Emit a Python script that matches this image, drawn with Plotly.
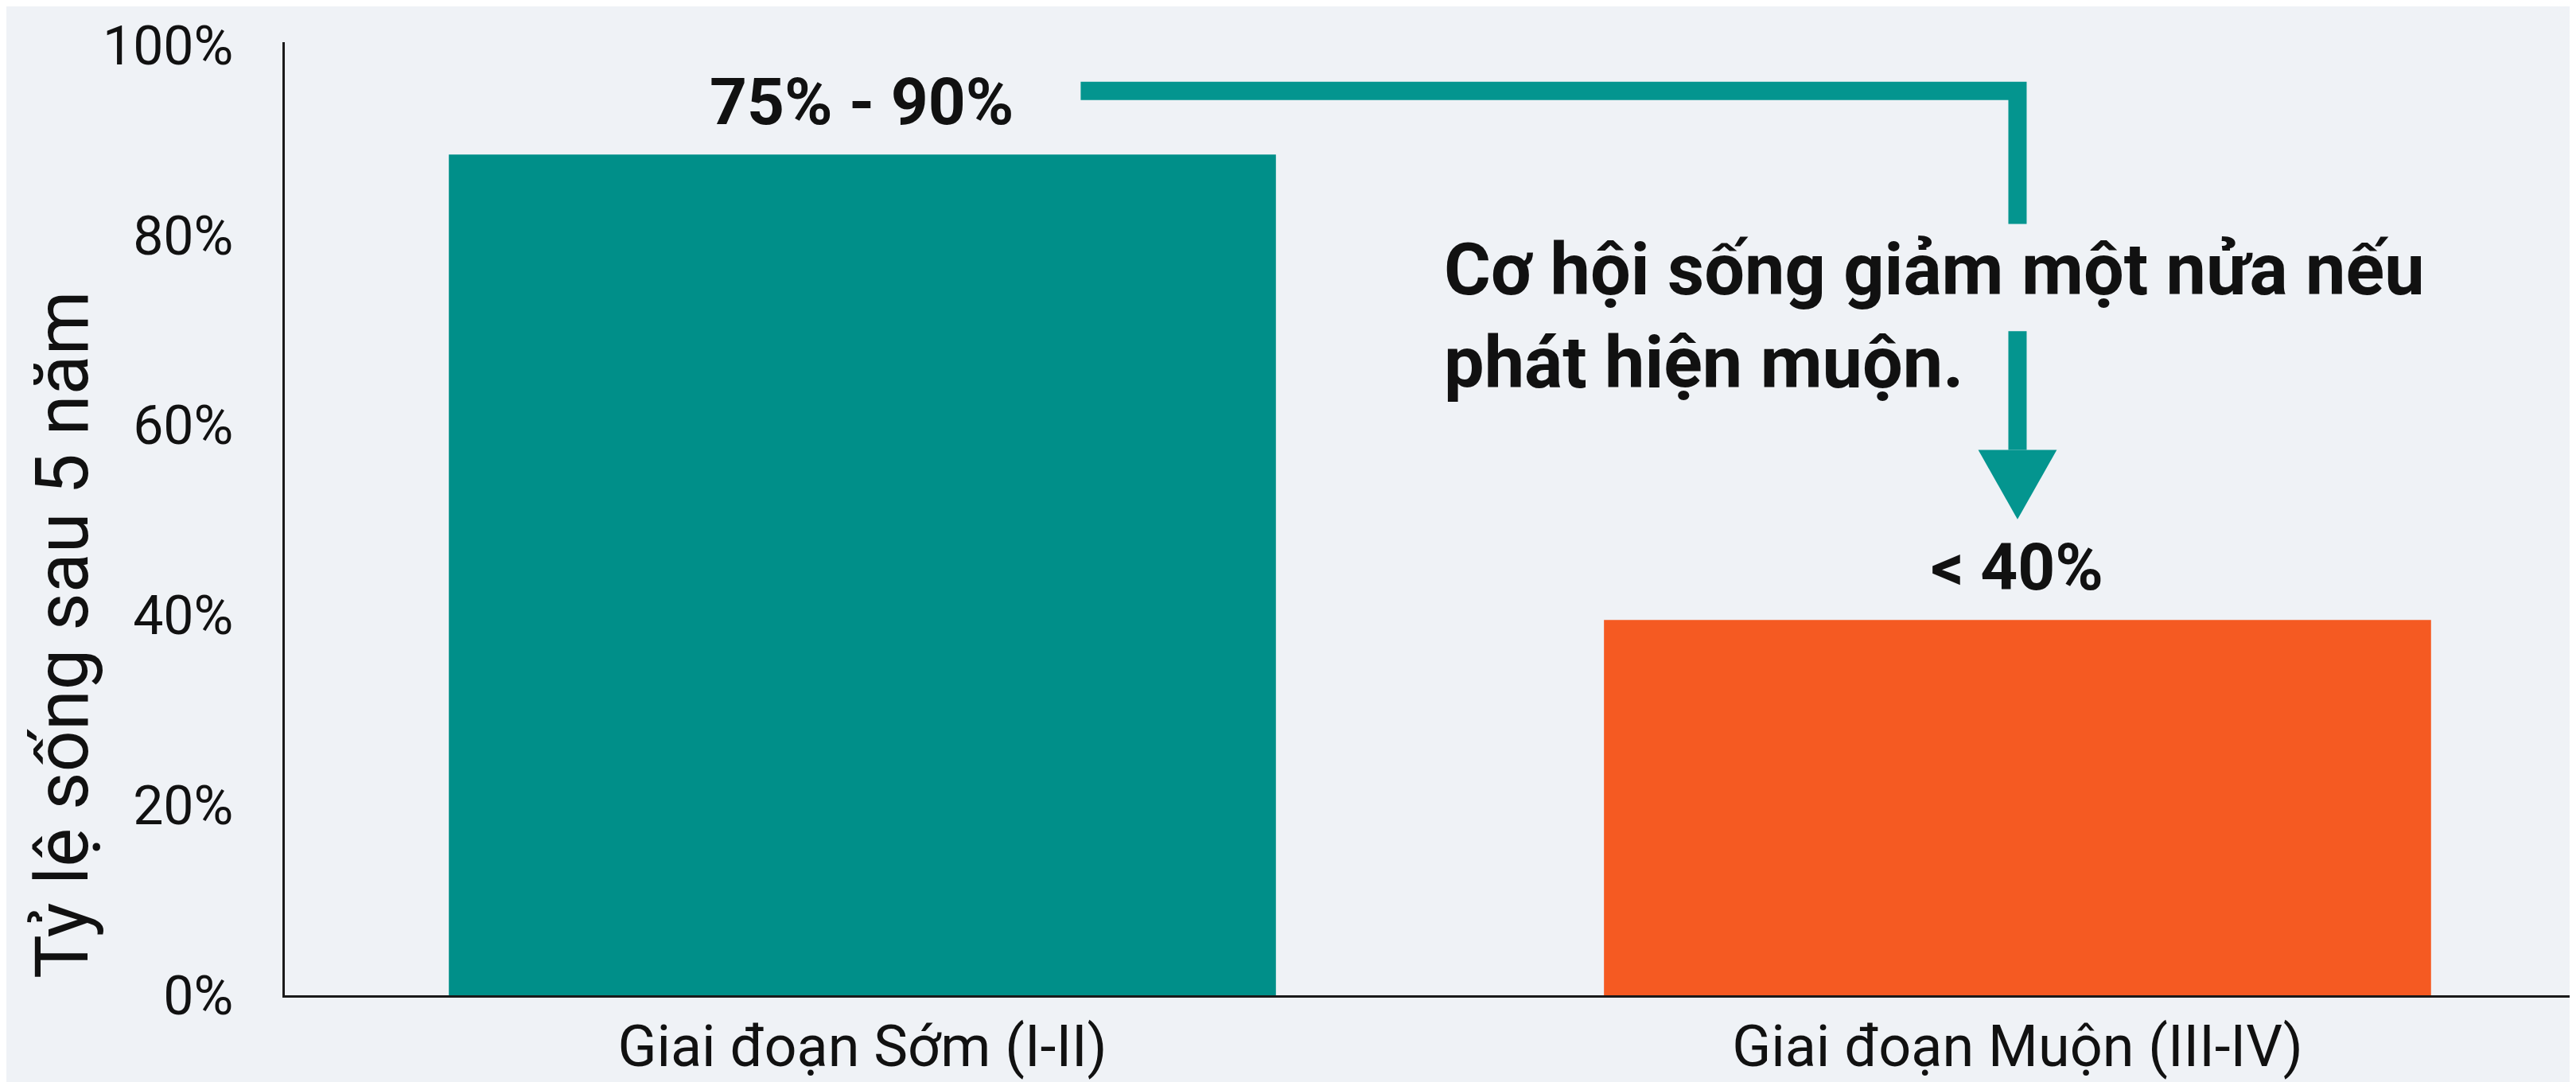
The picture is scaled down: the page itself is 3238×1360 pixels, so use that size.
import plotly.graph_objects as go

# ---- data ----
categories = ["Giai đoạn Sớm (I-II)", "Giai đoạn Muộn (III-IV)"]
survival = [88.5, 39.5]
value_labels = ["75% - 90%", "< 40%"]
bar_colors = ["#008F89", "#F55A22"]
y_ticks = [0, 20, 40, 60, 80, 100]
y_tick_text = ["0%", "20%", "40%", "60%", "80%", "100%"]
y_title = "Tỷ lệ sống sau 5 năm"
note_text = "Cơ hội sống giảm một nửa nếu<br>phát hiện muộn."

BG = "#EFF2F6"
TEAL_ARROW = "#04958F"
TXT = "#111111"
FONT = "Roboto"

fig = go.Figure()
fig.add_trace(go.Bar(
    x=[0, 1], y=survival, width=0.716,
    marker=dict(color=bar_colors, line=dict(width=0)),
    hoverinfo="skip", showlegend=False,
))

# value labels above bars
for i, (v, lab) in enumerate(zip(survival, value_labels)):
    fig.add_annotation(x=i, y=v, xref="x", yref="y", text=lab, showarrow=False,
                       yanchor="middle", yshift=66,
                       font=dict(family=FONT, size=82, color=TXT, weight=700))

# note text
fig.add_annotation(x=0.502, y=71.4, xref="x", yref="y", text=note_text, showarrow=False,
                   xanchor="left", yanchor="middle", align="left",
                   font=dict(family=FONT, size=90, color=TXT, weight=700))

# y-axis title (placed as rotated annotation to match offset position)
fig.add_annotation(x=-0.097, y=0.378, xref="paper", yref="paper", text=y_title,
                   showarrow=False, textangle=-90, xanchor="center", yanchor="middle",
                   font=dict(family=FONT, size=92, color=TXT))

# elbow arrow from early bar label to late bar
x_start, x_end = 0.189, 1.0
y_top, y_break1, y_break2, y_head = 95.2, 81.2, 69.9, 57.4
y_tip = 50.1
half_w = 0.034
fig.add_shape(type="path", xref="x", yref="y",
              path=f"M {x_start},{y_top} L {x_end},{y_top} L {x_end},{y_break1}",
              line=dict(color=TEAL_ARROW, width=23), layer="above")
fig.add_shape(type="line", xref="x", yref="y",
              x0=x_end, x1=x_end, y0=y_break2, y1=y_head,
              line=dict(color=TEAL_ARROW, width=23), layer="above")
fig.add_shape(type="path", xref="x", yref="y",
              path=f"M {x_end-half_w},{y_head} L {x_end+half_w},{y_head} L {x_end},{y_tip} Z",
              fillcolor=TEAL_ARROW, line=dict(width=0), layer="above")

fig.update_layout(
    width=3238, height=1360,
    margin=dict(l=350, r=0, t=45, b=117),
    paper_bgcolor=BG, plot_bgcolor=BG,
    font=dict(family=FONT, color=TXT),
)
fig.update_xaxes(
    range=[-0.5, 1.489], tickvals=[0, 1], ticktext=categories,
    showline=True, linecolor="#1A1A1A", linewidth=3,
    showgrid=False, zeroline=False, ticks="",
    tickfont=dict(family=FONT, size=72, color=TXT),
    ticklabelstandoff=0,
)
fig.update_yaxes(
    range=[0, 100.33], tickvals=y_ticks, ticktext=y_tick_text,
    showline=True, linecolor="#1A1A1A", linewidth=3,
    showgrid=False, zeroline=False, ticks="",
    tickfont=dict(family=FONT, size=68, color=TXT),
    ticklabelstandoff=48,
)

fig.write_html("out.html")
